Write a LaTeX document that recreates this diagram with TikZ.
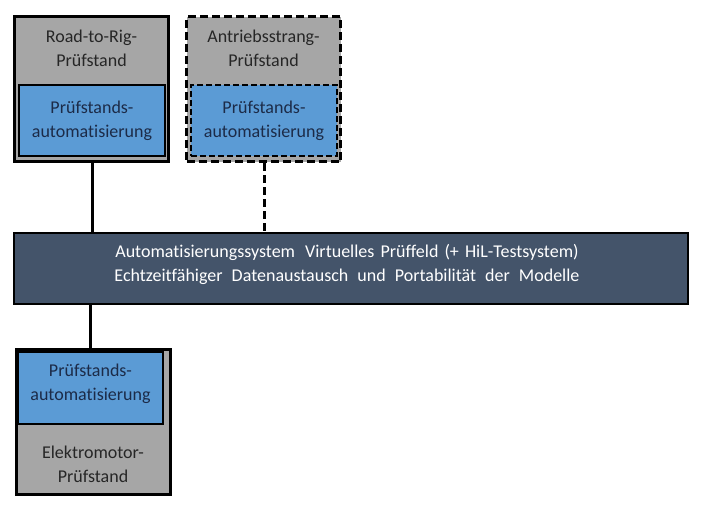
\documentclass[tikz,border=0pt]{standalone}
\usepackage{fontspec}
\setmainfont{Carlito}[Ligatures=NoCommon]
\usetikzlibrary{positioning}
\definecolor{standgrau}{HTML}{A6A6A6}
\definecolor{autoblau}{HTML}{5B9BD5}
\definecolor{sysblau}{HTML}{44546A}
\definecolor{textblau}{HTML}{1C2B48}
\definecolor{textgrau}{HTML}{262626}

\begin{document}
\begin{tikzpicture}[x=1pt,y=-1pt,
box/.style={rectangle, inner sep=0pt},
stand/.style={box, draw=black, line width=3pt, fill=standgrau, minimum width=154pt, minimum height=145pt},
auto/.style={box, draw=black, line width=2pt, fill=autoblau, minimum width=146pt, minimum height=71pt},
txt/.style={align=center, font=\fontsize{18}{24}\selectfont},
autotxt/.style={txt, text=textblau},
standtxt/.style={txt, text=textgrau},
gestrichelt/.style={dash pattern=on 8pt off 4pt},
feingestrichelt/.style={dash pattern=on 6pt off 3pt},
link/.style={line width=3pt}]

\useasboundingbox (0,0) rectangle (717,518);

% Road-to-Rig
\node[stand] (rr) at (91.5,89) {};
\node[auto] (rrauto) at (92,120.5) {};
\node[standtxt] (rrname) at (91.5,48.5) {Road-to-Rig-\\Prüfstand};
\node[autotxt] (rrautotxt) at (92,120.5) {Prüfstands-\\automatisierung};

% Antriebsstrang
\node[stand, gestrichelt] (as) at (263.5,89.5) {};
\node[auto, feingestrichelt] (asauto) at (264,121) {};
\node[standtxt] (asname) at (263.5,48.5) {Antriebsstrang-\\Prüfstand};
\node[autotxt] (asautotxt) at (264,121) {Prüfstands-\\automatisierung};

% Automatisierungssystem
\node[box, draw=black, line width=2pt, fill=sysblau, minimum width=674pt, minimum height=71pt] (sys) at (351,268.5) {};
\node[txt, text=white] (systxt) at (347,264.5)
  {Automatisierungssystem\hspace{6pt} Virtuelles\hspace{2pt} Prüffeld\hspace{2pt} (+\hspace{2pt} HiL-Testsystem)\\
   Echtzeitfähiger\hspace{5pt} Datenaustausch\hspace{5pt} und\hspace{5pt} Portabilität\hspace{5pt} der\hspace{5pt} Modelle};

% Elektromotor
\node[stand] (em) at (93,422) {};
\node[auto, minimum width=145pt, minimum height=72pt] (emauto) at (90.5,388) {};
\node[autotxt] (emautotxt) at (90.5,383.5) {Prüfstands-\\automatisierung};
\node[standtxt] (emname) at (93,464) {Elektromotor-\\Prüfstand};

% Verbindungen
\draw[link] (rr.south -| rrauto.south) -- (sys.north -| rrauto.south);
\draw[link, gestrichelt] (as.south -| asauto.south) -- (sys.north -| asauto.south);
\draw[link] (sys.south -| emauto.south) -- (em.north -| emauto.south);
\end{tikzpicture}
\end{document}
